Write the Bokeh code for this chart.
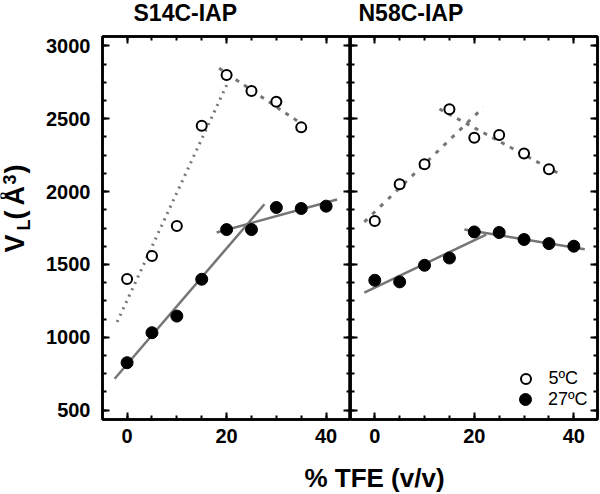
import math
from bokeh.plotting import figure
from bokeh.models import (Range1d, FixedTicker, LinearAxis, Label, Legend,
                          LegendItem, CustomJSTickFormatter)
from bokeh.layouts import row, column
from bokeh.embed import file_html
from bokeh.resources import INLINE

# ---------------- data ----------------
tfe_5C = [0, 5, 10, 15, 20, 25, 30, 35]
tfe_27C = [0, 5, 10, 15, 20, 25, 30, 35, 40]

s14c_5C = [1400, 1558, 1764, 2452, 2801, 2691, 2617, 2441]
s14c_27C = [825, 1031, 1145, 1398, 1739, 1739, 1891, 1884, 1900]
n58c_5C = [1798, 2051, 2188, 2565, 2369, 2388, 2262, 2154]
n58c_27C = [1391, 1380, 1494, 1544, 1723, 1719, 1671, 1643, 1625]

# fitted segments (end points)
s14c_5C_rise_x, s14c_5C_rise_y = [-2.0, 20.1], [1105, 2738]
s14c_5C_fall_x, s14c_5C_fall_y = [18.5, 35.5], [2847, 2455]
s14c_27C_rise_x, s14c_27C_rise_y = [-2.5, 27.6], [715, 1913]
s14c_27C_flat_x, s14c_27C_flat_y = [18.0, 42.2], [1719, 1946]
n58c_5C_rise_x, n58c_5C_rise_y = [-2.1, 21.8], [1792, 2578]
n58c_5C_fall_x, n58c_5C_fall_y = [13.0, 37.0], [2567, 2124]
n58c_27C_rise_x, n58c_27C_rise_y = [-2.1, 22.4], [1306, 1705]
n58c_27C_fall_x, n58c_27C_fall_y = [18.0, 42.2], [1739, 1604]

panel_titles = ["S14C-IAP", "N58C-IAP"]
legend_labels = ["5\u00baC", "27\u00baC"]
x_label = "% TFE (v/v)"
y_label_parts = ["V", "L", "(", "\u00c5", "3", ")"]
y_ticks = [500, 1000, 1500, 2000, 2500, 3000]
x_ticks = [0, 20, 40]

# ---------------- layout / style ----------------
FONT = "Liberation Sans"
GRAY = "#757575"
TOP_STRIP = 30          # height of the strip holding the panel titles
H = 419                 # height of the row with the two panels
MB_TOP, MB_BOTTOM = 6, 30
YLAB_W = 40             # width of the strip holding the y-axis title
BOTTOM_STRIP = 45
MID = 0.35              # baseline -> "middle" anchor offset, in em
OPEN_SIZE, FILL_SIZE = 10, 12

y_minor = [500 + 125 * i for i in range(21)]
x_minor = [-5 + 5 * i for i in range(11)]
yr = Range1d(435, 3065)


def style_axis(ax, ticker, labels):
    ax.ticker = ticker
    ax.axis_line_width = 2.5
    ax.axis_line_color = "black"
    ax.major_tick_line_width = 2
    ax.minor_tick_line_width = 2
    ax.major_tick_in, ax.major_tick_out = 7, 0
    ax.minor_tick_in, ax.minor_tick_out = 4, 0
    if labels:
        ax.major_label_text_font = FONT
        ax.major_label_text_font_style = "bold"
        ax.major_label_text_font_size = "20px"
        ax.major_label_text_color = "black"
    else:
        ax.formatter = CustomJSTickFormatter(code="return ''")
        ax.major_label_text_font_size = "0px"
        ax.major_label_standoff = 0


def blank(width, height, mb_top=0, mb_bottom=0):
    p = figure(width=width, height=height, output_backend="svg", toolbar_location=None,
               x_range=Range1d(0, 1), y_range=Range1d(0, 1),
               x_axis_location=None, y_axis_location=None,
               min_border_left=0, min_border_right=0,
               min_border_top=mb_top, min_border_bottom=mb_bottom)
    p.xgrid.visible = False
    p.ygrid.visible = False
    p.outline_line_color = None
    return p


def make_panel(width, mb_left, mb_right, xr, left_labels):
    p = figure(width=width, height=H, x_range=xr, y_range=yr,
               output_backend="svg", toolbar_location=None,
               x_axis_location=None, y_axis_location=None,
               min_border_left=mb_left, min_border_right=mb_right,
               min_border_top=MB_TOP, min_border_bottom=MB_BOTTOM)
    p.xgrid.visible = False
    p.ygrid.visible = False
    p.outline_line_color = "black"
    p.outline_line_width = 2.5
    yt = FixedTicker(ticks=y_ticks, minor_ticks=y_minor)
    xt = FixedTicker(ticks=x_ticks, minor_ticks=x_minor)
    left = LinearAxis(); style_axis(left, yt, left_labels)
    if left_labels:
        left.major_label_standoff = 12
    right = LinearAxis(); style_axis(right, yt, False)
    below = LinearAxis(); style_axis(below, xt, True)
    below.major_label_standoff = 9
    above = LinearAxis(); style_axis(above, xt, False)
    p.add_layout(left, "left")
    p.add_layout(right, "right")
    p.add_layout(below, "below")
    p.add_layout(above, "above")
    return p


def draw(p, y5, y27, rise5, fall5, seg27a, seg27b, rise_dash):
    p.line(rise5[0], rise5[1], line_color=GRAY, line_width=3, line_dash=rise_dash)
    p.line(fall5[0], fall5[1], line_color=GRAY, line_width=3, line_dash="4 6")
    p.line(seg27a[0], seg27a[1], line_color=GRAY, line_width=2.5)
    p.line(seg27b[0], seg27b[1], line_color=GRAY, line_width=2.5)
    r_open = p.scatter(tfe_5C, y5, marker="circle", size=OPEN_SIZE, fill_color="white",
                       line_color="black", line_width=2)
    r_fill = p.scatter(tfe_27C, y27, marker="circle", size=FILL_SIZE, fill_color="black",
                       line_color="black", line_width=1)
    return r_open, r_fill


p1 = make_panel(350 - YLAB_W, 102 - YLAB_W, 0, Range1d(-4.94, 44.9), True)
p2 = make_panel(250, 0, 3, Range1d(-4.88, 44.76), False)

draw(p1, s14c_5C, s14c_27C, (s14c_5C_rise_x, s14c_5C_rise_y),
     (s14c_5C_fall_x, s14c_5C_fall_y), (s14c_27C_rise_x, s14c_27C_rise_y),
     (s14c_27C_flat_x, s14c_27C_flat_y), "2 5")
ro, rf = draw(p2, n58c_5C, n58c_27C, (n58c_5C_rise_x, n58c_5C_rise_y),
              (n58c_5C_fall_x, n58c_5C_fall_y), (n58c_27C_rise_x, n58c_27C_rise_y),
              (n58c_27C_fall_x, n58c_27C_fall_y), "4 7")

# legends (one per item so each marker keeps its size); location from frame bottom-left
LEG_CX, LEG_TEXT_X = 175, 198.3          # glyph centre / text start, px from frame left
for rend, lab, size, cy in [(ro, legend_labels[0], OPEN_SIZE, 40.7),
                            (rf, legend_labels[1], FILL_SIZE, 19.7)]:
    g = size / 0.4                       # Bokeh draws legend markers at 0.4 * glyph box
    leg = Legend(items=[LegendItem(label=lab, renderers=[rend])],
                 location=(LEG_CX - g / 2, cy - g / 2),
                 glyph_width=round(g), glyph_height=round(g),
                 label_standoff=round(LEG_TEXT_X - LEG_CX - g / 2), padding=0,
                 margin=0, spacing=0, border_line_alpha=0, background_fill_alpha=0,
                 label_text_font=FONT, label_text_font_size="18px",
                 label_text_color="black", label_height=20)
    p2.add_layout(leg)


def put(p, frame_bottom, text, x, base_y, size_px, angle=0.0,
        align="left", rotated=False):
    """x, base_y: canvas px of the text's baseline start (top-left origin).
    For rotated (bottom-to-top) text x is the baseline column, base_y the start."""
    if rotated:
        ax_, ay_ = x - MID * size_px, base_y
    else:
        ax_, ay_ = x, base_y - MID * size_px
    p.add_layout(Label(x=ax_, y=frame_bottom - ay_, x_units="screen", y_units="screen",
                       text=text, angle=angle, text_font=FONT, text_font_style="bold",
                       text_font_size=f"{size_px}px", text_align=align,
                       text_baseline="middle", text_color="black"))


# top strip: panel titles
pt = blank(600, TOP_STRIP)
put(pt, TOP_STRIP, panel_titles[0], 133, 21, 23)
put(pt, TOP_STRIP, panel_titles[1], 358, 21, 23)

# left strip: y-axis title V_L (Å^3), composed of pieces
p0 = blank(YLAB_W, H, MB_TOP, MB_BOTTOM)
A = math.pi / 2
oy = TOP_STRIP
fb = H - MB_BOTTOM
for text, bx, start_y, size in [(y_label_parts[0], 23.5, 252, 27),
                                (y_label_parts[1], 30, 230, 18),
                                (y_label_parts[2], 23.5, 219, 27),
                                (y_label_parts[3], 23.5, 205, 27),
                                (y_label_parts[4], 15, 184, 18),
                                (y_label_parts[5], 23.5, 173, 27)]:
    put(p0, fb, text, bx, start_y - oy, size, A, rotated=True)

# bottom strip: x-axis title
p3 = blank(600, BOTTOM_STRIP)
put(p3, BOTTOM_STRIP, x_label, 374, 486.5 - (TOP_STRIP + H), 26, align="center")

layout = column(pt, row(p0, p1, p2, spacing=0), p3, spacing=0)
open("out.html", "w").write(file_html(layout, INLINE))
